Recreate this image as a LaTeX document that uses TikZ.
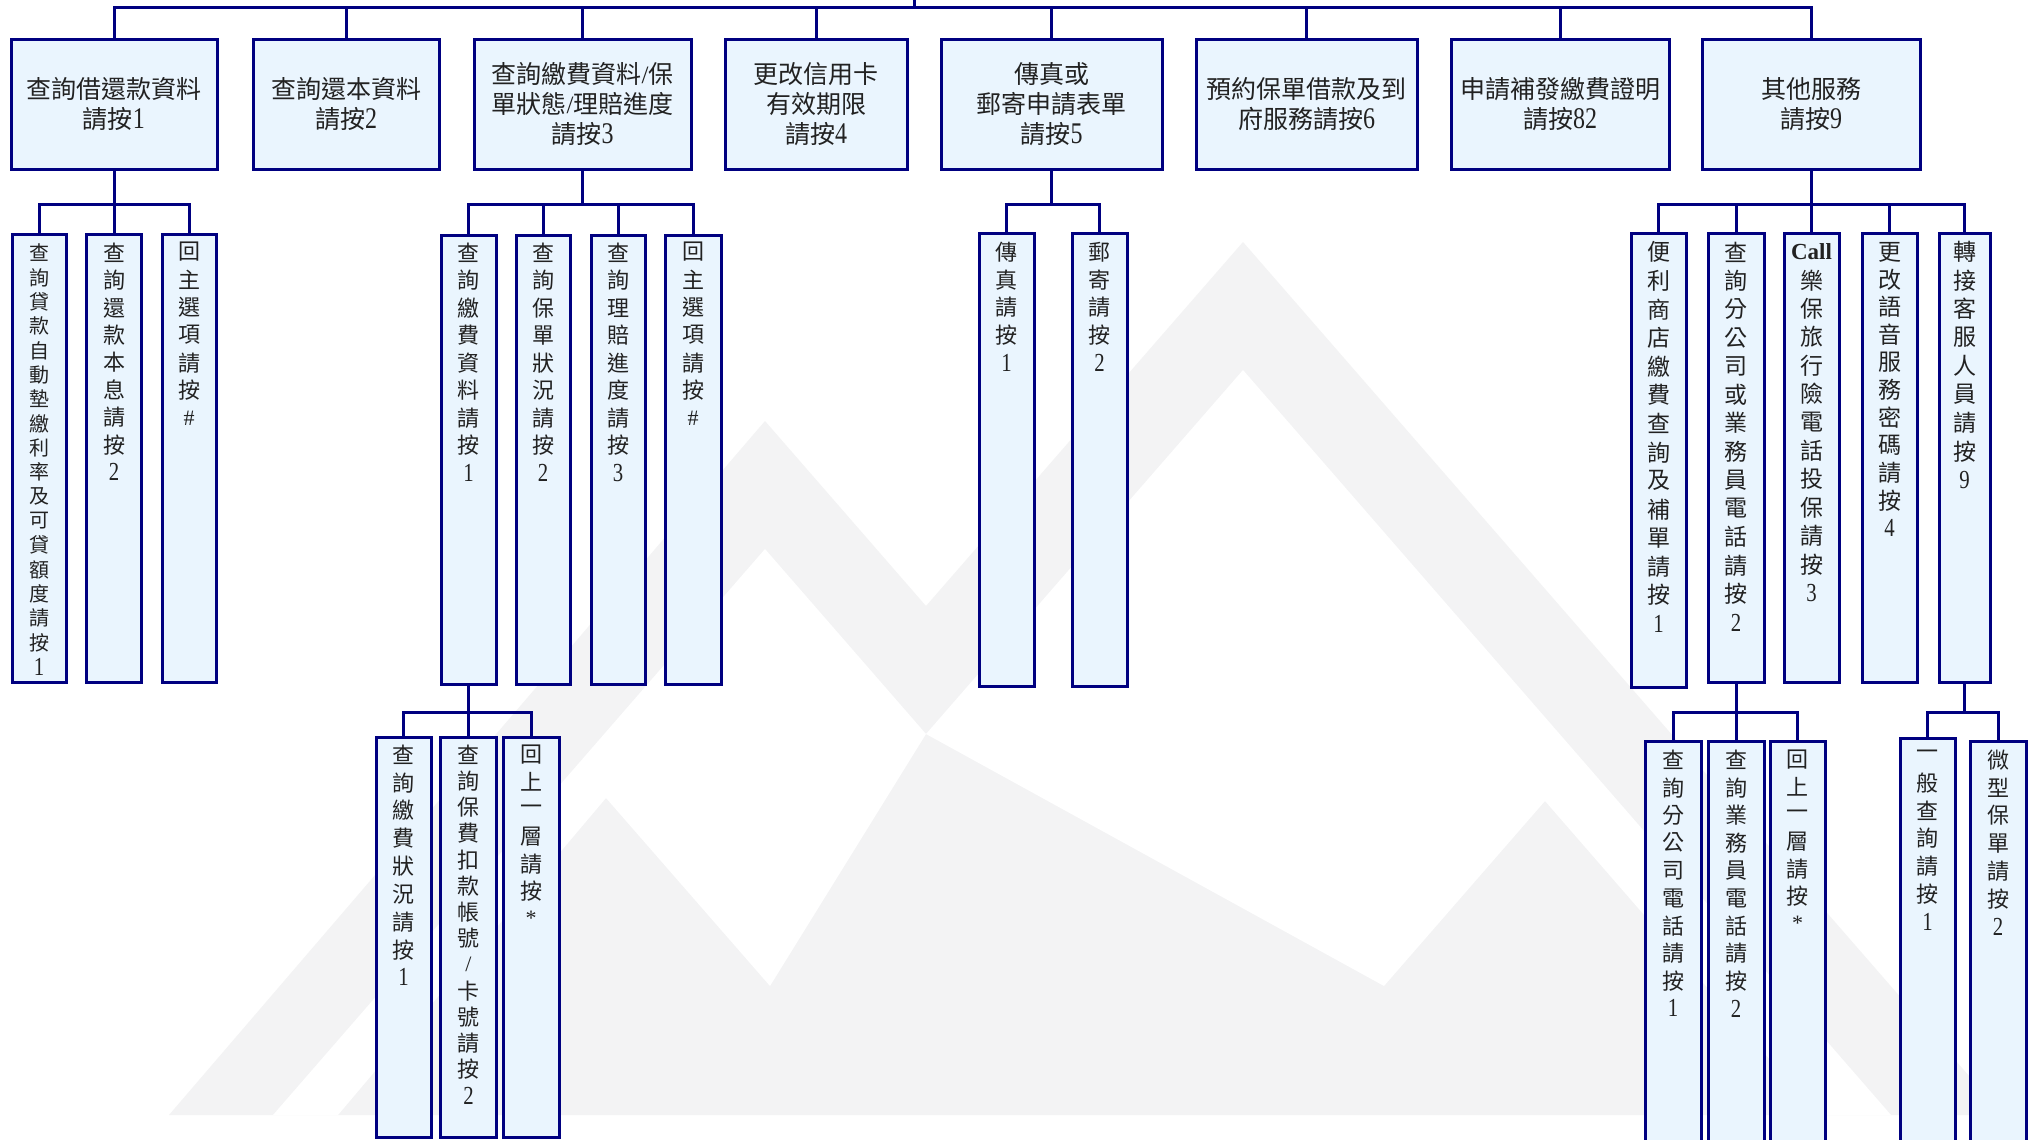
\documentclass[tikz,border=0pt]{standalone}
\usepackage{fontspec}
\setmainfont{Noto Sans CJK TC}
\newfontfamily\lat{Liberation Serif}
\definecolor{boxline}{HTML}{000080}
\definecolor{boxfill}{HTML}{EAF5FE}
\definecolor{wm}{HTML}{F3F3F4}
\definecolor{txt}{HTML}{222222}
% digits in columns and in top boxes (tall, narrow Times-like figures)
\newcommand\dg[1]{\scalebox{0.8}[1]{\fontsize{26}{26}\selectfont\lat #1}}
\newcommand\tg[1]{\scalebox{0.8}[1]{\fontsize{30}{30}\selectfont\lat #1}}
\newcommand\mktop[4]{%
  \node[tbox, minimum width={#3-#2}, minimum height=129] (#1) at ({(#2+#3)/2},104.5) {#4};}
\newcommand\mkvcol[9]{%
  \node[vbox, minimum width=#5, minimum height={#4-#3}] (#1) at (#2,{(#3+#4)/2}) {};
  \foreach \ch [count=\i from 0] in {#8}
    \node[vch, font=\fontsize{#9}{#9}\selectfont] (#1-\i) at (#2,{#6+\i*#7}) {\ch};}
\begin{document}
\begin{tikzpicture}[x=1pt,y=-1pt,
  tbox/.style={draw=boxline, fill=boxfill, line width=3pt, inner sep=0pt, outer sep=0pt,
    align=center, text=txt, font=\fontsize{25}{30}\selectfont},
  vbox/.style={draw=boxline, fill=boxfill, line width=3pt, inner sep=0pt, outer sep=0pt},
  vch/.style={inner sep=0pt, text=txt},
  conn/.style={draw=boxline, line width=3pt, line join=miter}]
\path[use as bounding box] (0,0) rectangle (2038,1140);
\clip (0,0) rectangle (2038,1140);
\fill[white] (0,0) rectangle (2038,1140);
% watermark
\fill[wm] (169,1115) -- (765,421) -- (926,606) -- (1243,242) -- (2003,1115) -- cycle;
\fill[white] (273,1115) -- (765,549) -- (926,734) -- (770,986) -- (606,798) -- (338,1115) -- cycle;
\fill[white] (926,734) -- (1243,370) -- (1891,1115) -- (1818,1115) -- (1545,801) -- (1384,986) -- cycle;
% top level
\mktop{t1}{11}{217}{查詢借還款資料\\請按\tg{1}}
\mktop{t2}{253}{439}{查詢還本資料\\請按\tg{2}}
\mktop{t3}{474}{691}{查詢繳費資料{\lat /}保\\單狀態{\lat /}理賠進度\\請按\tg{3}}
\mktop{t4}{725}{907}{更改信用卡\\有效期限\\請按\tg{4}}
\mktop{t5}{941}{1162}{傳真或\\郵寄申請表單\\請按\tg{5}}
\mktop{t6}{1196}{1417}{預約保單借款及到\\府服務請按\tg{6}}
\mktop{t7}{1451}{1669}{申請補發繳費證明\\請按\tg{82}}
\mktop{t8}{1702}{1920}{其他服務\\請按\tg{9}}
% level 2
\mkvcol{c11}{39}{234}{682}{54}{253}{24.35}{查,詢,貸,款,自,動,墊,繳,利,率,及,可,貸,額,度,請,按,\dg{1}}{20}
\mkvcol{c12}{114}{234}{682}{55}{253}{27.4}{查,詢,還,款,本,息,請,按,\dg{2}}{22}
\mkvcol{c13}{189}{234}{682}{54}{252}{27.7}{回,主,選,項,請,按,{\lat\#}}{22}
\mkvcol{c21}{468.5}{235}{684}{55}{253}{27.5}{查,詢,繳,費,資,料,請,按,\dg{1}}{22}
\mkvcol{c22}{543}{235}{684}{54}{253}{27.5}{查,詢,保,單,狀,況,請,按,\dg{2}}{22}
\mkvcol{c23}{618}{235}{684}{54}{253}{27.5}{查,詢,理,賠,進,度,請,按,\dg{3}}{22}
\mkvcol{c24}{693}{235}{684}{56}{252}{27.7}{回,主,選,項,請,按,{\lat\#}}{22}
\mkvcol{c31}{1006.5}{233}{686}{55}{252}{27.8}{傳,真,請,按,\dg{1}}{22}
\mkvcol{c32}{1099.5}{233}{686}{55}{252}{27.8}{郵,寄,請,按,\dg{2}}{22}
\mkvcol{c41}{1658.5}{233}{687}{55}{252}{28.6}{便,利,商,店,繳,費,查,詢,及,補,單,請,按,\dg{1}}{23}
\mkvcol{c42}{1736}{233}{682}{56}{252}{28.5}{查,詢,分,公,司,或,業,務,員,電,話,請,按,\dg{2}}{23}
\mkvcol{c43}{1811.5}{233}{682}{55}{252}{28.4}{{\lat\bfseries Call},樂,保,旅,行,險,電,話,投,保,請,按,\dg{3}}{23}
\mkvcol{c44}{1889.5}{233}{682}{55}{252}{27.6}{更,改,語,音,服,務,密,碼,請,按,\dg{4}}{23}
\mkvcol{c45}{1964.5}{233}{682}{51}{252}{28.5}{轉,接,客,服,人,員,請,按,\dg{9}}{23}
% level 3
\mkvcol{d11}{403.5}{737}{1137}{55}{755}{27.8}{查,詢,繳,費,狀,況,請,按,\dg{1}}{22}
\mkvcol{d12}{468.5}{737}{1137}{56}{755}{26.2}{查,詢,保,費,扣,款,帳,號,{\lat /},卡,號,請,按,\dg{2}}{22}
\mkvcol{d13}{531}{737}{1137}{56}{755}{27.2}{回,上,一,層,請,按,{\lat *}}{22}
\mkvcol{d21}{1673}{741}{1170}{56}{760}{27.6}{查,詢,分,公,司,電,話,請,按,\dg{1}}{22}
\mkvcol{d22}{1736}{741}{1170}{56}{760}{27.6}{查,詢,業,務,員,電,話,請,按,\dg{2}}{22}
\mkvcol{d23}{1797.5}{741}{1170}{55}{760}{27.2}{回,上,一,層,請,按,{\lat *}}{22}
\mkvcol{d31}{1927.5}{738}{1170}{55}{755}{27.8}{一,般,查,詢,請,按,\dg{1}}{22}
\mkvcol{d32}{1998}{741}{1170}{56}{760}{27.8}{微,型,保,單,請,按,\dg{2}}{22}
% connectors
\coordinate (root) at (914,0);
\coordinate (b0) at (914,8);
\coordinate (b1) at (0,204);
\coordinate (b2) at (0,712);
\draw[conn] (root) -- (b0);
\draw[conn] (t1.north) -- (t1.north |- b0) -- (t8.north |- b0) -- (t8.north);
\foreach \n in {t2,t3,t4,t5,t6,t7} \draw[conn] (\n.north) -- (\n.north |- b0);
% t1 children
\draw[conn] (t1.south) -- (t1.south |- b1);
\draw[conn] (c11.north) -- (c11.north |- b1) -- (c13.north |- b1) -- (c13.north);
\draw[conn] (c12.north) -- (c12.north |- b1);
% t3 children
\draw[conn] (t3.south) -- (t3.south |- b1);
\draw[conn] (c21.north) -- (c21.north |- b1) -- (c24.north |- b1) -- (c24.north);
\foreach \n in {c22,c23} \draw[conn] (\n.north) -- (\n.north |- b1);
% t5 children
\draw[conn] (t5.south) -- (t5.south |- b1);
\draw[conn] (c31.north) -- (c31.north |- b1) -- (c32.north |- b1) -- (c32.north);
% t8 children
\draw[conn] (t8.south) -- (t8.south |- b1);
\draw[conn] (c41.north) -- (c41.north |- b1) -- (c45.north |- b1) -- (c45.north);
\foreach \n in {c42,c43,c44} \draw[conn] (\n.north) -- (\n.north |- b1);
% level 3
\draw[conn] (c21.south) -- (c21.south |- b2);
\draw[conn] (d11.north) -- (d11.north |- b2) -- (d13.north |- b2) -- (d13.north);
\draw[conn] (d12.north) -- (d12.north |- b2);
\draw[conn] (c42.south) -- (c42.south |- b2);
\draw[conn] (d21.north) -- (d21.north |- b2) -- (d23.north |- b2) -- (d23.north);
\draw[conn] (d22.north) -- (d22.north |- b2);
\draw[conn] (c45.south) -- (c45.south |- b2);
\draw[conn] (d31.north) -- (d31.north |- b2) -- (d32.north |- b2) -- (d32.north);
\end{tikzpicture}
\end{document}
